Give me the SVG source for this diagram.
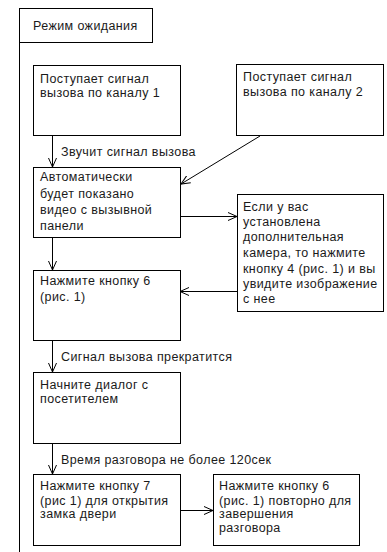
<svg xmlns="http://www.w3.org/2000/svg" width="387" height="552" viewBox="0 0 387 552">
<style>
.box{fill:#fff;stroke:#000;stroke-width:1}
.t{font-family:"Liberation Sans",Arial,sans-serif;font-size:12.5px;fill:#1a1a1a;letter-spacing:0.4px}
.c{fill:none;stroke:#000;stroke-width:1}
</style>
<defs>
<marker id="ah" markerUnits="userSpaceOnUse" markerWidth="10" markerHeight="10" refX="9" refY="4" orient="auto" viewBox="0 0 10 8">
<path d="M0,0 L9,4 L0,8" fill="none" stroke="#000" stroke-width="1"/>
</marker>
</defs>
<rect width="387" height="552" fill="#fff"/>
<g id="frame">
<line x1="19.5" y1="8" x2="19.5" y2="552" class="c"/>
<rect x="19.5" y="8.5" width="133" height="34" class="box"/>
<text class="t" x="33" y="29.5">Режим ожидания</text>
</g>
<g id="connectors">
<line x1="52.5" y1="136" x2="52.5" y2="167" class="c" marker-end="url(#ah)"/>
<line x1="260" y1="136" x2="181" y2="184" class="c" marker-end="url(#ah)"/>
<line x1="52.5" y1="238" x2="52.5" y2="270" class="c" marker-end="url(#ah)"/>
<line x1="180" y1="216.5" x2="237" y2="216.5" class="c" marker-end="url(#ah)"/>
<line x1="237" y1="291.5" x2="180" y2="291.5" class="c" marker-end="url(#ah)"/>
<line x1="52.5" y1="341" x2="52.5" y2="372" class="c" marker-end="url(#ah)"/>
<line x1="52.5" y1="444" x2="52.5" y2="474" class="c" marker-end="url(#ah)"/>
<line x1="180" y1="510.5" x2="213" y2="510.5" class="c" marker-end="url(#ah)"/>
<text class="t" x="61" y="156">Звучит сигнал вызова</text>
<text class="t" x="61" y="361">Сигнал вызова прекратится</text>
<text class="t" x="61" y="463.5">Время разговора не более 120сек</text>
</g>
<g id="n1">
<rect x="33.5" y="65.5" width="147" height="70" class="box"/>
<text class="t" x="40" y="83">Поступает сигнал</text>
<text class="t" x="40" y="97">вызова по каналу 1</text>
</g>
<g id="n2">
<rect x="236.5" y="64.5" width="147" height="71" class="box"/>
<text class="t" x="243" y="81">Поступает сигнал</text>
<text class="t" x="243" y="96">вызова по каналу 2</text>
</g>
<g id="n3">
<rect x="33.5" y="167.5" width="147" height="70" class="box"/>
<text class="t" x="40" y="181">Автоматически</text>
<text class="t" x="40" y="197.5">будет показано</text>
<text class="t" x="40" y="213.5">видео с вызывной</text>
<text class="t" x="40" y="229.5">панели</text>
</g>
<g id="n4">
<rect x="237.5" y="194.5" width="146" height="117" class="box"/>
<text class="t" x="243" y="211">Если у вас</text>
<text class="t" x="243" y="226">установлена</text>
<text class="t" x="243" y="241">дополнительная</text>
<text class="t" x="243" y="257">камера, то нажмите</text>
<text class="t" x="243" y="272.5">кнопку 4 (рис. 1) и вы</text>
<text class="t" x="243" y="287.5">увидите изображение</text>
<text class="t" x="243" y="302.5">с нее</text>
</g>
<g id="n5">
<rect x="33.5" y="270.5" width="147" height="70" class="box"/>
<text class="t" x="40" y="284.5">Нажмите кнопку 6</text>
<text class="t" x="40" y="301">(рис. 1)</text>
</g>
<g id="n6">
<rect x="33.5" y="372.5" width="147" height="71" class="box"/>
<text class="t" x="40" y="388.5">Начните диалог с</text>
<text class="t" x="40" y="402.5">посетителем</text>
</g>
<g id="n7">
<rect x="33.5" y="474.5" width="147" height="71" class="box"/>
<text class="t" x="40" y="489.5">Нажмите кнопку 7</text>
<text class="t" x="40" y="504.5">(рис  1) для открытия</text>
<text class="t" x="40" y="518">замка двери</text>
</g>
<g id="n8">
<rect x="213.5" y="474.5" width="146" height="71" class="box"/>
<text class="t" x="219" y="489.5">Нажмите кнопку 6</text>
<text class="t" x="219" y="504.5">(рис. 1) повторно для</text>
<text class="t" x="219" y="518">завершения</text>
<text class="t" x="219" y="532">разговора</text>
</g>
</svg>
